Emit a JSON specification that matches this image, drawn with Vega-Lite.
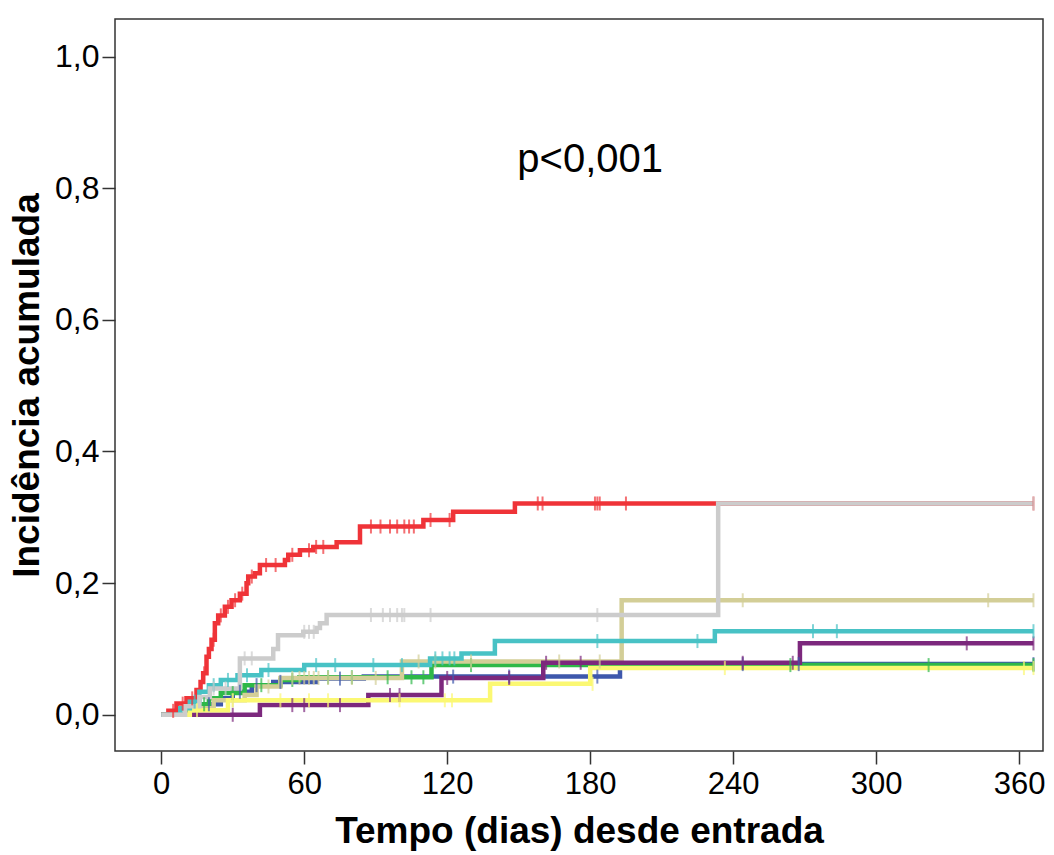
{
  "$schema": "https://vega.github.io/schema/vega-lite/v6.json",
  "autosize": {"type": "none"},
  "padding": {"left": 115, "top": 19, "right": 11, "bottom": 104},
  "width": 928,
  "height": 732,
  "background": "white",
  "config": {
    "view": {"stroke": "#333333", "strokeWidth": 1.5},
    "axis": {
      "domain": false, "grid": false, "tickColor": "#333333", "tickWidth": 1.5, "tickSize": 13,
      "labelFont": "Liberation Sans", "labelColor": "#000000",
      "titleFont": "Liberation Sans", "titleFontWeight": "bold", "titleColor": "#000000", "titleFontSize": 37
    }
  },
  "datasets": {
    "curves": [
      {"g": "Grupo 1", "d": 0, "v": 0}, {"g": "Grupo 1", "d": 12, "v": 0.008}, {"g": "Grupo 1", "d": 18, "v": 0.016}, {"g": "Grupo 1", "d": 25, "v": 0.025}, {"g": "Grupo 1", "d": 30, "v": 0.035}, {"g": "Grupo 1", "d": 38, "v": 0.045}, {"g": "Grupo 1", "d": 47, "v": 0.05}, {"g": "Grupo 1", "d": 65, "v": 0.055}, {"g": "Grupo 1", "d": 85, "v": 0.058}, {"g": "Grupo 1", "d": 192.5, "v": 0.077}, {"g": "Grupo 1", "d": 366, "v": 0.077},
      {"g": "Grupo 2", "d": 0, "v": 0}, {"g": "Grupo 2", "d": 10, "v": 0.008}, {"g": "Grupo 2", "d": 15, "v": 0.016}, {"g": "Grupo 2", "d": 20, "v": 0.025}, {"g": "Grupo 2", "d": 25, "v": 0.033}, {"g": "Grupo 2", "d": 35, "v": 0.045}, {"g": "Grupo 2", "d": 50, "v": 0.053}, {"g": "Grupo 2", "d": 58, "v": 0.057}, {"g": "Grupo 2", "d": 113.4, "v": 0.0755}, {"g": "Grupo 2", "d": 366, "v": 0.0755},
      {"g": "Grupo 3", "d": 0, "v": 0}, {"g": "Grupo 3", "d": 15, "v": 0.01}, {"g": "Grupo 3", "d": 22, "v": 0.022}, {"g": "Grupo 3", "d": 35, "v": 0.03}, {"g": "Grupo 3", "d": 40, "v": 0.043}, {"g": "Grupo 3", "d": 50, "v": 0.056}, {"g": "Grupo 3", "d": 101, "v": 0.081}, {"g": "Grupo 3", "d": 193.2, "v": 0.174}, {"g": "Grupo 3", "d": 366, "v": 0.174},
      {"g": "Grupo 4", "d": 0, "v": 0}, {"g": "Grupo 4", "d": 41.4, "v": 0.0147}, {"g": "Grupo 4", "d": 86.9, "v": 0.03}, {"g": "Grupo 4", "d": 117.6, "v": 0.056}, {"g": "Grupo 4", "d": 160.3, "v": 0.079}, {"g": "Grupo 4", "d": 268, "v": 0.1085}, {"g": "Grupo 4", "d": 366, "v": 0.1085},
      {"g": "Grupo 5", "d": 0, "v": 0}, {"g": "Grupo 5", "d": 12, "v": 0.007}, {"g": "Grupo 5", "d": 28, "v": 0.022}, {"g": "Grupo 5", "d": 138, "v": 0.047}, {"g": "Grupo 5", "d": 180, "v": 0.071}, {"g": "Grupo 5", "d": 366, "v": 0.071},
      {"g": "Grupo 6", "d": 0, "v": 0}, {"g": "Grupo 6", "d": 3, "v": 0.006}, {"g": "Grupo 6", "d": 6.4, "v": 0.017}, {"g": "Grupo 6", "d": 10.6, "v": 0.025}, {"g": "Grupo 6", "d": 14.8, "v": 0.0375}, {"g": "Grupo 6", "d": 16.5, "v": 0.05}, {"g": "Grupo 6", "d": 17.6, "v": 0.063}, {"g": "Grupo 6", "d": 19, "v": 0.088}, {"g": "Grupo 6", "d": 20, "v": 0.1}, {"g": "Grupo 6", "d": 21.1, "v": 0.114}, {"g": "Grupo 6", "d": 22.5, "v": 0.139}, {"g": "Grupo 6", "d": 23.9, "v": 0.151}, {"g": "Grupo 6", "d": 26.7, "v": 0.164}, {"g": "Grupo 6", "d": 29.5, "v": 0.174}, {"g": "Grupo 6", "d": 33, "v": 0.184}, {"g": "Grupo 6", "d": 35.8, "v": 0.2}, {"g": "Grupo 6", "d": 36.5, "v": 0.21}, {"g": "Grupo 6", "d": 39.3, "v": 0.215}, {"g": "Grupo 6", "d": 41.4, "v": 0.2275}, {"g": "Grupo 6", "d": 51.9, "v": 0.235}, {"g": "Grupo 6", "d": 53.3, "v": 0.243}, {"g": "Grupo 6", "d": 58.2, "v": 0.25}, {"g": "Grupo 6", "d": 63.8, "v": 0.255}, {"g": "Grupo 6", "d": 73.6, "v": 0.262}, {"g": "Grupo 6", "d": 83.4, "v": 0.286}, {"g": "Grupo 6", "d": 110, "v": 0.296}, {"g": "Grupo 6", "d": 122.5, "v": 0.3085}, {"g": "Grupo 6", "d": 148.4, "v": 0.321}, {"g": "Grupo 6", "d": 366, "v": 0.321},
      {"g": "Grupo 7", "d": 0, "v": 0}, {"g": "Grupo 7", "d": 8, "v": 0.01}, {"g": "Grupo 7", "d": 12, "v": 0.02}, {"g": "Grupo 7", "d": 16, "v": 0.035}, {"g": "Grupo 7", "d": 20, "v": 0.045}, {"g": "Grupo 7", "d": 25, "v": 0.053}, {"g": "Grupo 7", "d": 32, "v": 0.06}, {"g": "Grupo 7", "d": 42, "v": 0.068}, {"g": "Grupo 7", "d": 60, "v": 0.0755}, {"g": "Grupo 7", "d": 112.8, "v": 0.0857}, {"g": "Grupo 7", "d": 126, "v": 0.093}, {"g": "Grupo 7", "d": 140, "v": 0.112}, {"g": "Grupo 7", "d": 232.3, "v": 0.127}, {"g": "Grupo 7", "d": 366, "v": 0.127},
      {"g": "Grupo 8", "d": 0, "v": 0}, {"g": "Grupo 8", "d": 10, "v": 0.013}, {"g": "Grupo 8", "d": 16, "v": 0.027}, {"g": "Grupo 8", "d": 20.4, "v": 0.04}, {"g": "Grupo 8", "d": 33, "v": 0.0857}, {"g": "Grupo 8", "d": 47, "v": 0.1}, {"g": "Grupo 8", "d": 49, "v": 0.121}, {"g": "Grupo 8", "d": 59.6, "v": 0.126}, {"g": "Grupo 8", "d": 65.2, "v": 0.132}, {"g": "Grupo 8", "d": 66.6, "v": 0.139}, {"g": "Grupo 8", "d": 69.4, "v": 0.1515}, {"g": "Grupo 8", "d": 233.7, "v": 0.321}, {"g": "Grupo 8", "d": 366, "v": 0.321}
    ],
    "censor": [
      {"g": "Grupo 1", "d": 20, "v": 0.016}, {"g": "Grupo 1", "d": 33, "v": 0.035}, {"g": "Grupo 1", "d": 40, "v": 0.045}, {"g": "Grupo 1", "d": 50, "v": 0.05}, {"g": "Grupo 1", "d": 75, "v": 0.055}, {"g": "Grupo 1", "d": 122.5, "v": 0.058}, {"g": "Grupo 1", "d": 146, "v": 0.058}, {"g": "Grupo 1", "d": 183, "v": 0.058}, {"g": "Grupo 1", "d": 244, "v": 0.077}, {"g": "Grupo 1", "d": 267.5, "v": 0.077}, {"g": "Grupo 1", "d": 366, "v": 0.077},
      {"g": "Grupo 2", "d": 18, "v": 0.016}, {"g": "Grupo 2", "d": 30, "v": 0.033}, {"g": "Grupo 2", "d": 42, "v": 0.045}, {"g": "Grupo 2", "d": 55, "v": 0.053}, {"g": "Grupo 2", "d": 70, "v": 0.057}, {"g": "Grupo 2", "d": 80, "v": 0.057}, {"g": "Grupo 2", "d": 95, "v": 0.057}, {"g": "Grupo 2", "d": 105, "v": 0.057}, {"g": "Grupo 2", "d": 110, "v": 0.057}, {"g": "Grupo 2", "d": 130, "v": 0.0755}, {"g": "Grupo 2", "d": 264, "v": 0.0755}, {"g": "Grupo 2", "d": 322, "v": 0.0755}, {"g": "Grupo 2", "d": 366, "v": 0.0755},
      {"g": "Grupo 3", "d": 30, "v": 0.022}, {"g": "Grupo 3", "d": 45, "v": 0.043}, {"g": "Grupo 3", "d": 55, "v": 0.056}, {"g": "Grupo 3", "d": 58, "v": 0.056}, {"g": "Grupo 3", "d": 60, "v": 0.056}, {"g": "Grupo 3", "d": 62, "v": 0.056}, {"g": "Grupo 3", "d": 64, "v": 0.056}, {"g": "Grupo 3", "d": 66, "v": 0.056}, {"g": "Grupo 3", "d": 70, "v": 0.056}, {"g": "Grupo 3", "d": 80, "v": 0.056}, {"g": "Grupo 3", "d": 90, "v": 0.056}, {"g": "Grupo 3", "d": 108, "v": 0.081}, {"g": "Grupo 3", "d": 115, "v": 0.081}, {"g": "Grupo 3", "d": 130, "v": 0.081}, {"g": "Grupo 3", "d": 167, "v": 0.081}, {"g": "Grupo 3", "d": 184, "v": 0.081}, {"g": "Grupo 3", "d": 244, "v": 0.174}, {"g": "Grupo 3", "d": 347, "v": 0.174}, {"g": "Grupo 3", "d": 366, "v": 0.174},
      {"g": "Grupo 4", "d": 30, "v": 0}, {"g": "Grupo 4", "d": 55, "v": 0.0147}, {"g": "Grupo 4", "d": 60, "v": 0.0147}, {"g": "Grupo 4", "d": 75, "v": 0.0147}, {"g": "Grupo 4", "d": 96, "v": 0.03}, {"g": "Grupo 4", "d": 100, "v": 0.03}, {"g": "Grupo 4", "d": 120, "v": 0.056}, {"g": "Grupo 4", "d": 146, "v": 0.056}, {"g": "Grupo 4", "d": 161.5, "v": 0.079}, {"g": "Grupo 4", "d": 176, "v": 0.079}, {"g": "Grupo 4", "d": 244, "v": 0.079}, {"g": "Grupo 4", "d": 265, "v": 0.079}, {"g": "Grupo 4", "d": 338, "v": 0.1085}, {"g": "Grupo 4", "d": 366, "v": 0.1085},
      {"g": "Grupo 5", "d": 15, "v": 0.007}, {"g": "Grupo 5", "d": 30, "v": 0.022}, {"g": "Grupo 5", "d": 50, "v": 0.022}, {"g": "Grupo 5", "d": 62, "v": 0.022}, {"g": "Grupo 5", "d": 70, "v": 0.022}, {"g": "Grupo 5", "d": 100, "v": 0.022}, {"g": "Grupo 5", "d": 119, "v": 0.022}, {"g": "Grupo 5", "d": 122, "v": 0.022}, {"g": "Grupo 5", "d": 181, "v": 0.047}, {"g": "Grupo 5", "d": 236.5, "v": 0.071}, {"g": "Grupo 5", "d": 362, "v": 0.071}, {"g": "Grupo 5", "d": 366, "v": 0.071},
      {"g": "Grupo 6", "d": 5, "v": 0.006}, {"g": "Grupo 6", "d": 9, "v": 0.017}, {"g": "Grupo 6", "d": 13, "v": 0.025}, {"g": "Grupo 6", "d": 18, "v": 0.063}, {"g": "Grupo 6", "d": 22, "v": 0.114}, {"g": "Grupo 6", "d": 25, "v": 0.151}, {"g": "Grupo 6", "d": 28, "v": 0.164}, {"g": "Grupo 6", "d": 31, "v": 0.174}, {"g": "Grupo 6", "d": 34, "v": 0.184}, {"g": "Grupo 6", "d": 38, "v": 0.21}, {"g": "Grupo 6", "d": 44, "v": 0.2275}, {"g": "Grupo 6", "d": 48, "v": 0.2275}, {"g": "Grupo 6", "d": 55, "v": 0.243}, {"g": "Grupo 6", "d": 62, "v": 0.25}, {"g": "Grupo 6", "d": 65, "v": 0.255}, {"g": "Grupo 6", "d": 68, "v": 0.255}, {"g": "Grupo 6", "d": 88, "v": 0.286}, {"g": "Grupo 6", "d": 92, "v": 0.286}, {"g": "Grupo 6", "d": 96, "v": 0.286}, {"g": "Grupo 6", "d": 99, "v": 0.286}, {"g": "Grupo 6", "d": 102, "v": 0.286}, {"g": "Grupo 6", "d": 104, "v": 0.286}, {"g": "Grupo 6", "d": 106, "v": 0.286}, {"g": "Grupo 6", "d": 113, "v": 0.296}, {"g": "Grupo 6", "d": 121, "v": 0.296}, {"g": "Grupo 6", "d": 158, "v": 0.321}, {"g": "Grupo 6", "d": 160, "v": 0.321}, {"g": "Grupo 6", "d": 182, "v": 0.321}, {"g": "Grupo 6", "d": 183, "v": 0.321}, {"g": "Grupo 6", "d": 184, "v": 0.321}, {"g": "Grupo 6", "d": 195, "v": 0.321}, {"g": "Grupo 6", "d": 366, "v": 0.321},
      {"g": "Grupo 7", "d": 14, "v": 0.02}, {"g": "Grupo 7", "d": 22, "v": 0.045}, {"g": "Grupo 7", "d": 28, "v": 0.053}, {"g": "Grupo 7", "d": 36, "v": 0.06}, {"g": "Grupo 7", "d": 45, "v": 0.068}, {"g": "Grupo 7", "d": 65, "v": 0.0755}, {"g": "Grupo 7", "d": 73, "v": 0.0755}, {"g": "Grupo 7", "d": 89, "v": 0.0755}, {"g": "Grupo 7", "d": 101, "v": 0.0755}, {"g": "Grupo 7", "d": 115, "v": 0.0857}, {"g": "Grupo 7", "d": 118, "v": 0.0857}, {"g": "Grupo 7", "d": 121, "v": 0.0857}, {"g": "Grupo 7", "d": 123, "v": 0.0857}, {"g": "Grupo 7", "d": 183, "v": 0.112}, {"g": "Grupo 7", "d": 225, "v": 0.112}, {"g": "Grupo 7", "d": 273.5, "v": 0.127}, {"g": "Grupo 7", "d": 283.5, "v": 0.127}, {"g": "Grupo 7", "d": 366, "v": 0.127},
      {"g": "Grupo 8", "d": 22, "v": 0.04}, {"g": "Grupo 8", "d": 27, "v": 0.04}, {"g": "Grupo 8", "d": 35, "v": 0.0857}, {"g": "Grupo 8", "d": 38, "v": 0.0857}, {"g": "Grupo 8", "d": 60, "v": 0.126}, {"g": "Grupo 8", "d": 62, "v": 0.126}, {"g": "Grupo 8", "d": 64, "v": 0.126}, {"g": "Grupo 8", "d": 88, "v": 0.1515}, {"g": "Grupo 8", "d": 93, "v": 0.1515}, {"g": "Grupo 8", "d": 96, "v": 0.1515}, {"g": "Grupo 8", "d": 99, "v": 0.1515}, {"g": "Grupo 8", "d": 101, "v": 0.1515}, {"g": "Grupo 8", "d": 102, "v": 0.1515}, {"g": "Grupo 8", "d": 113, "v": 0.1515}, {"g": "Grupo 8", "d": 183, "v": 0.1515}, {"g": "Grupo 8", "d": 366, "v": 0.321}
    ],
    "notes": [{"label": "p<0,001", "d": 180, "v": 0.825}]
  },
  "layer": [
    {
      "data": {"name": "curves"},
      "mark": {"type": "line", "interpolate": "step-after", "strokeWidth": 4.5, "clip": true},
      "encoding": {
        "x": {"field": "d", "type": "quantitative", "scale": {"domain": [-19.4, 370], "nice": false, "zero": false},
              "axis": {"values": [0, 60, 120, 180, 240, 300, 360], "title": "Tempo (dias) desde entrada", "labelFontSize": 31, "labelPadding": 5, "titlePadding": 14}},
        "y": {"field": "v", "type": "quantitative", "scale": {"domain": [-0.055, 1.057], "nice": false, "zero": false},
              "axis": {"values": [0, 0.2, 0.4, 0.6, 0.8, 1.0], "title": "Incidência acumulada", "labelFontSize": 32, "labelPadding": 3, "titlePadding": 8,
                       "labelExpr": "replace(format(datum.value, '.1f'), '.', ',')"}},
        "color": {"field": "g", "type": "nominal", "legend": null,
                  "scale": {"domain": ["Grupo 1", "Grupo 2", "Grupo 3", "Grupo 4", "Grupo 5", "Grupo 6", "Grupo 7", "Grupo 8"],
                            "range": ["#3E58AC", "#2EB848", "#D3CE97", "#7C287D", "#FBF873", "#EF3338", "#48C2C5", "#CCCCCC"]}}
      }
    },
    {
      "data": {"name": "censor"},
      "mark": {"type": "tick", "orient": "vertical", "size": 14, "thickness": 2, "clip": true},
      "encoding": {
        "x": {"field": "d", "type": "quantitative"},
        "y": {"field": "v", "type": "quantitative"},
        "color": {"field": "g", "type": "nominal", "legend": null}
      }
    },
    {
      "data": {"name": "notes"},
      "mark": {"type": "text", "fontSize": 40, "font": "Liberation Sans", "align": "center", "baseline": "alphabetic", "color": "#000000"},
      "encoding": {
        "x": {"field": "d", "type": "quantitative"},
        "y": {"field": "v", "type": "quantitative"},
        "text": {"field": "label"}
      }
    }
  ]
}
